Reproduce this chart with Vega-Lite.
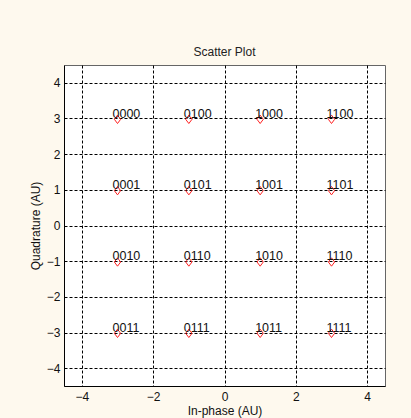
{
  "$schema": "https://vega.github.io/schema/vega-lite/v6.json",
  "autosize": {"type": "none"},
  "width": 321,
  "height": 321,
  "padding": {"left": 64, "top": 65, "right": 26, "bottom": 32},
  "background": "#fef9ee",
  "title": {"text": "Scatter Plot", "font": "Liberation Sans", "fontSize": 12, "fontWeight": "normal", "color": "#222", "offset": 6},
  "config": {
    "view": {"stroke": "#666", "strokeWidth": 1, "fill": "white"},
    "axis": {
      "labelFont": "Liberation Sans", "labelFontSize": 12, "labelColor": "#111",
      "titleFont": "Liberation Sans", "titleFontSize": 12, "titleFontWeight": "normal", "titleColor": "#111",
      "domainColor": "#000", "domainWidth": 1,
      "grid": true, "gridColor": "#000", "gridDash": [3, 2], "gridOpacity": 1, "gridWidth": 1,
      "ticks": false
    }
  },
  "data": {"values": [
    {"x": -3, "y": 3, "label": "0000"},
    {"x": -1, "y": 3, "label": "0100"},
    {"x": 1, "y": 3, "label": "1000"},
    {"x": 3, "y": 3, "label": "1100"},
    {"x": -3, "y": 1, "label": "0001"},
    {"x": -1, "y": 1, "label": "0101"},
    {"x": 1, "y": 1, "label": "1001"},
    {"x": 3, "y": 1, "label": "1101"},
    {"x": -3, "y": -1, "label": "0010"},
    {"x": -1, "y": -1, "label": "0110"},
    {"x": 1, "y": -1, "label": "1010"},
    {"x": 3, "y": -1, "label": "1110"},
    {"x": -3, "y": -3, "label": "0011"},
    {"x": -1, "y": -3, "label": "0111"},
    {"x": 1, "y": -3, "label": "1011"},
    {"x": 3, "y": -3, "label": "1111"}
  ]},
  "encoding": {
    "x": {"field": "x", "type": "quantitative",
      "scale": {"domain": [-4.5, 4.5], "nice": false, "zero": false},
      "axis": {"title": "In-phase (AU)", "values": [-4, -2, 0, 2, 4], "labelPadding": 5, "titlePadding": 3}},
    "y": {"field": "y", "type": "quantitative",
      "scale": {"domain": [-4.5, 4.5], "nice": false, "zero": false},
      "axis": {"title": "Quadrature (AU)", "values": [-4, -3, -2, -1, 0, 1, 2, 3, 4], "labelPadding": 4, "titlePadding": 4}}
  },
  "layer": [
    {"mark": {"type": "point", "shape": "M0,-0.8L0.75,0.2L0,1.2L-0.75,0.2Z", "size": 70, "filled": false, "color": "#ff2020", "strokeWidth": 1, "opacity": 1}},
    {"mark": {"type": "text", "align": "left", "baseline": "alphabetic", "dx": -5, "dy": -1, "font": "Liberation Sans", "fontSize": 12.5, "color": "#111"},
     "encoding": {"text": {"field": "label"}}}
  ]
}
